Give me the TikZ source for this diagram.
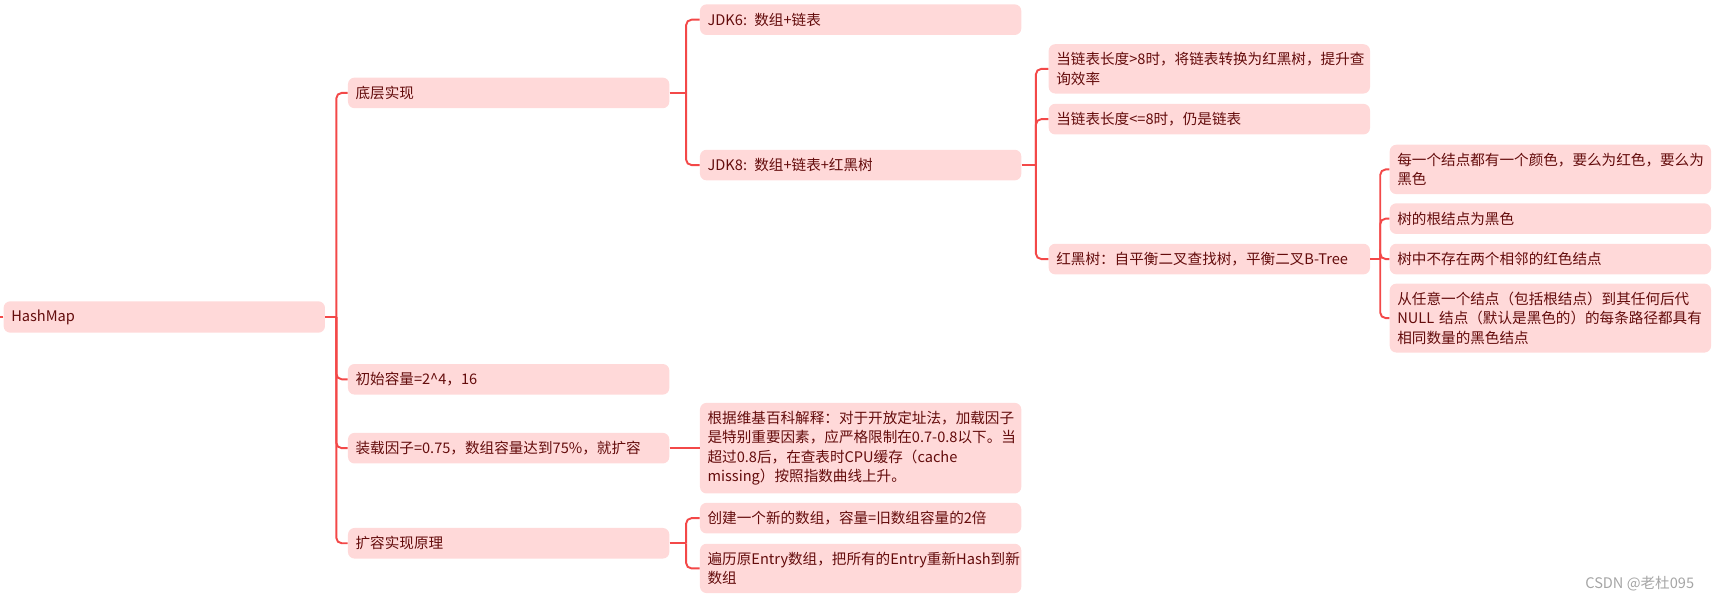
\documentclass[tikz,border=0pt]{standalone}
\usepackage{fontspec}
\setmainfont{Noto Sans CJK SC}
\definecolor{boxpink}{RGB}{255,217,217}
\definecolor{linered}{RGB}{243,72,72}
\definecolor{inkred}{RGB}{100,12,12}
\definecolor{markgray}{RGB}{165,165,165}
\begin{document}
\begin{tikzpicture}
  [
    x = 0.02cm, y = -0.02cm,
    topic/.style  = {fill=boxpink, text=inkred, rounded corners=0.12cm, anchor=west,
                     align=left, text width=5.6cm, inner xsep=0.14cm, inner ysep=0.15cm,
                     minimum height=0.56cm, font=\fontsize{7.6}{10.1}\selectfont},
    stem/.style   = {draw=linered, line width=1pt},
    branch/.style = {stem, rounded corners=0.1cm}
  ]
 \useasboundingbox (0,0) rectangle (1568,550);
 \node[topic] (root) at (3,290) {HashMap};
 \node[topic] (impl) at (318,85) {底层实现};
 \node[topic] (cap) at (318,347) {初始容量=2\textasciicircum 4，16};
 \node[topic] (load) at (318,410) {装载因子=0.75，数组容量达到75\%，就扩容};
 \node[topic] (resize) at (318,497) {扩容实现原理};
 \node[topic] (jdk6) at (640,18) {JDK6: 数组+链表};
 \node[topic] (jdk8) at (640,151) {JDK8: 数组+链表+红黑树};
 \node[topic] (loadnote) at (640,410) {根据维基百科解释：对于开放定址法，加载因子\\\mbox{是特别重要因素，应严格限制在0.7-0.8以下。当}\\超过0.8后，在查表时CPU缓存（cache\\missing）按照指数曲线上升。};
 \node[topic] (rs1) at (640,474) {创建一个新的数组，容量=旧数组容量的2倍};
 \node[topic] (rs2) at (640,520) {遍历原Entry数组，把所有的Entry重新Hash到新\\数组};
 \node[topic] (gt8) at (959,63) {当链表长度>8时，将链表转换为红黑树，提升查\\询效率};
 \node[topic] (le8) at (959,109) {当链表长度<=8时，仍是链表};
 \node[topic] (rbt) at (959,237) {红黑树：自平衡二叉查找树，平衡二叉B-Tree};
 \node[topic] (rb1) at (1271,155) {每一个结点都有一个颜色，要么为红色，要么为\\黑色};
 \node[topic] (rb2) at (1271,200) {树的根结点为黑色};
 \node[topic] (rb3) at (1271,237) {树中不存在两个相邻的红色结点};
 \node[topic] (rb4) at (1271,291) {从任意一个结点（包括根结点）到其任何后代\\NULL 结点（默认是黑色的）的每条路径都具有\\相同数量的黑色结点};
 \node[anchor=east, text=markgray, font=\fontsize{7.6}{9}\selectfont] (mark) at (1556,534) {CSDN @老杜095};
 \draw[stem] (root.west) -- ++(-3,0);
 \draw[stem] (root.east) -- ++(10,0) coordinate (j0);
 \foreach \c in {impl,cap,load,resize}
   \draw[branch] (j0) |- (\c.west);
 \draw[stem] (impl.east) -- ++(15,0) coordinate (j1);
 \foreach \c in {jdk6,jdk8}
   \draw[branch] (j1) |- (\c.west);
 \draw[stem] (jdk8.east) -- ++(13,0) coordinate (j2);
 \foreach \c in {gt8,le8,rbt}
   \draw[branch] (j2) |- (\c.west);
 \draw[stem] (rbt.east) -- ++(9,0) coordinate (j3);
 \foreach \c in {rb1,rb2,rb3,rb4}
   \draw[branch] (j3) |- (\c.west);
 \draw[stem] (load.east) -- (loadnote.west);
 \draw[stem] (resize.east) -- ++(15,0) coordinate (j4);
 \foreach \c in {rs1,rs2}
   \draw[branch] (j4) |- (\c.west);
\end{tikzpicture}
\end{document}
